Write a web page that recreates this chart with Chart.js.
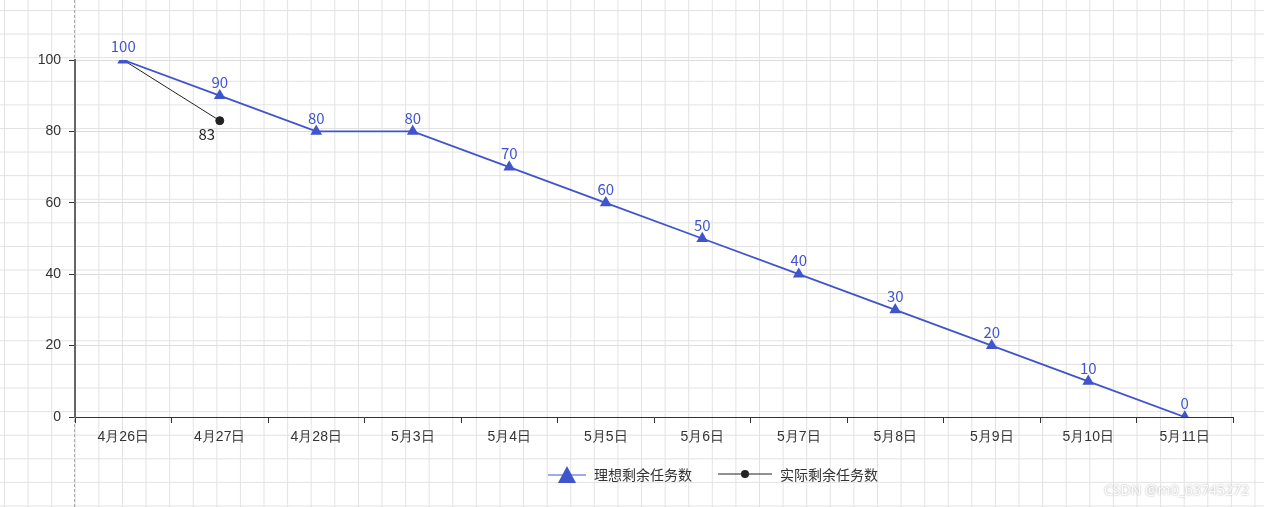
<!DOCTYPE html>
<html>
<head>
<meta charset="utf-8">
<script src="https://cdn.jsdelivr.net/npm/chart.js@4"></script>
<style>
  body { margin: 0; width: 1264px; height: 507px; overflow: hidden; position: relative;
    font-family: "Noto Sans CJK SC", "Noto Sans", sans-serif;
    background-color: #fff;
    background-image:
      linear-gradient(to right, #e2e2e2 1px, transparent 1px),
      linear-gradient(to bottom, #e2e2e2 1px, transparent 1px);
    background-size: 23.6px 23.6px;
    background-position: 4px 10px; }
  #dash { position: absolute; left: 74px; top: 0; height: 507px; border-left: 1px dashed #aaa; }
  #wrap { position: absolute; left: 0; top: 0; width: 1264px; height: 507px; }
  #legend { position: absolute; top: 464px; left: 548px; font-size: 14px; color: #333; display: flex; gap: 26px; align-items: center; }
  #legend span { display: flex; align-items: center; gap: 8px; }
  #watermark { position: absolute; right: 15px; top: 480px; font-size: 14px; color: #fff;
    text-shadow: 0 0 2px #999; font-family: "Noto Sans", sans-serif; }
</style>
</head>
<body>
<div id="dash"></div>
<div id="wrap"><canvas id="c" width="1264" height="507"></canvas></div>
<div id="legend">
  <span><svg width="38" height="20"><line x1="0" y1="11" x2="38" y2="11" stroke="#4055cc"/><polygon points="19,2 28,19 10,19" fill="#4055cc"/></svg>理想剩余任务数</span>
  <span><svg width="54" height="20"><line x1="0" y1="10" x2="54" y2="10" stroke="#222"/><circle cx="27" cy="10" r="4" fill="#222"/></svg>实际剩余任务数</span>
</div>
<div id="watermark">CSDN @m0_63745272</div>
<script>
const categories = ['4月26日', '4月27日', '4月28日', '5月3日', '5月4日', '5月5日', '5月6日', '5月7日', '5月8日', '5月9日', '5月10日', '5月11日'];
const idealRemaining = [100, 90, 80, 80, 70, 60, 50, 40, 30, 20, 10, 0];
const actualRemaining = [100, 83, null, null, null, null, null, null, null, null, null, null];
const yTicks = [0, 20, 40, 60, 80, 100];

const valueLabels = {
  id: 'valueLabels',
  afterDatasetsDraw(chart) {
    const ctx = chart.ctx;
    ctx.save();
    ctx.font = '15px "Noto Sans CJK SC", "Noto Sans", sans-serif';
    ctx.textAlign = 'center';
    chart.data.datasets.forEach((ds, di) => {
      chart.getDatasetMeta(di).data.forEach((pt, i) => {
        const v = ds.data[i];
        if (v === null) return;
        if (di === 0) {
          ctx.fillStyle = '#4055cc';
          ctx.textBaseline = 'bottom';
          ctx.fillText(v, pt.x, pt.y - 6);
        } else if (i > 0) {
          ctx.fillStyle = '#222';
          ctx.textBaseline = 'top';
          ctx.fillText(v, pt.x - 13, pt.y + 6);
        }
      });
    });
    ctx.restore();
  }
};

new Chart(document.getElementById('c'), {
  type: 'line',
  data: {
    labels: categories,
    datasets: [
      { label: '理想剩余任务数', data: idealRemaining, borderColor: '#4055cc', backgroundColor: '#4055cc',
        borderWidth: 1.8, pointStyle: 'triangle', pointRadius: 5, tension: 0 },
      { label: '实际剩余任务数', data: actualRemaining, borderColor: '#222', backgroundColor: '#222',
        borderWidth: 1, pointStyle: 'circle', pointRadius: [0, 4], tension: 0 }
    ]
  },
  options: {
    responsive: false,
    animation: false,
    layout: { padding: { left: 0, right: 31, top: 60, bottom: 50 } },
    plugins: { legend: { display: false }, tooltip: { enabled: false } },
    scales: {
      x: {
        offset: true,
        grid: { offset: true, drawOnChartArea: false, color: '#333', tickLength: 6 },
        border: { color: '#333' },
        ticks: { color: '#333', font: { size: 14 }, padding: 6, maxRotation: 0 },
        afterFit: s => { s.height = 40; }
      },
      y: {
        min: 0, max: 100,
        afterBuildTicks: s => { s.ticks = yTicks.map(v => ({ value: v })); },
        grid: { color: '#dcdcdc', tickLength: 6, tickColor: '#333' },
        border: { color: '#666', width: 2 },
        ticks: { color: '#333', font: { size: 14 }, padding: 8 },
        afterFit: s => { s.width = 75; }
      }
    }
  },
  plugins: [valueLabels]
});
</script>
</body>
</html>
